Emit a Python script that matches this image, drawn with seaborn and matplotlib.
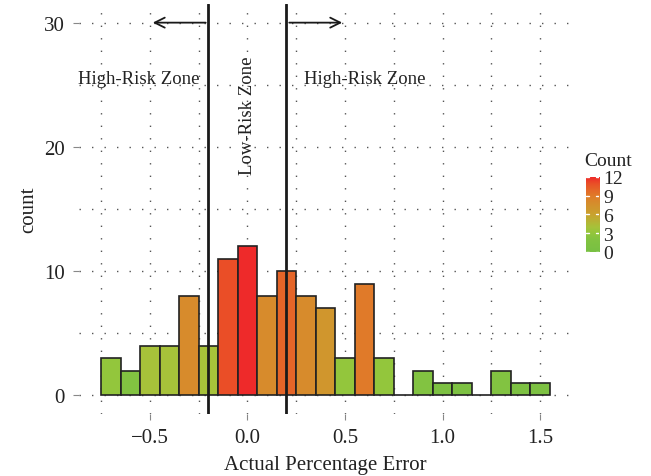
import numpy as np
import pandas as pd
import matplotlib
matplotlib.use("Agg")
import matplotlib.pyplot as plt
from matplotlib.colors import LinearSegmentedColormap, Normalize
import seaborn as sns

# histogram bins (centres) and counts
bin_centres = [-0.7, -0.6, -0.5, -0.4, -0.3, -0.2, -0.1, 0.0, 0.1, 0.2, 0.3, 0.4,
               0.5, 0.6, 0.7, 0.8, 0.9, 1.0, 1.1, 1.2, 1.3, 1.4, 1.5]
counts = [3, 2, 4, 4, 8, 4, 11, 12, 8, 10, 8, 7, 3, 9, 3, 0, 2, 1, 1, 0, 2, 1, 1]
zone_limits = [-0.2, 0.2]
x_ticks = [-0.5, 0.0, 0.5, 1.0, 1.5]
y_ticks = [0, 10, 20, 30]
cbar_ticks = [0, 3, 6, 9, 12]

df = pd.DataFrame({"err": bin_centres, "n": counts})

sns.set_theme(style="white")
plt.rcParams["font.family"] = ["Liberation Serif", "DejaVu Serif"]

# green -> red gradient
cmap = LinearSegmentedColormap.from_list("gr", [
    (0.0, "#78c043"), (2 / 12, "#82c341"), (3 / 12, "#93c63c"), (4 / 12, "#a7c23a"),
    (6 / 12, "#c9a22f"), (8 / 12, "#d78b2c"), (9 / 12, "#e07b29"),
    (10 / 12, "#e56628"), (11 / 12, "#ea4e27"), (1.0, "#ee2a2a")])
norm = Normalize(0, 12)

fig = plt.figure(figsize=(6.51, 4.77), dpi=100)
ax = fig.add_axes([0.121, 0.13, 0.758, 0.8595])

sns.histplot(data=df, x="err", weights="n", binwidth=0.1, binrange=(-0.75, 1.55),
             ax=ax, edgecolor="#222222", linewidth=1.2, alpha=1)
for p in ax.patches:
    p.set_facecolor(cmap(norm(p.get_height())))

ax.set_xlim(-0.865, 1.665)
ax.set_ylim(-1.5, 31.5)
ax.set_xticks(x_ticks)
ax.set_xticklabels(["\u22120.5", "0.0", "0.5", "1.0", "1.5"])
ax.set_yticks(y_ticks)
ax.set_xticks(np.arange(-0.75, 1.51, 0.25), minor=True)
ax.set_yticks(np.arange(0, 31, 5), minor=True)
ax.grid(which="both", color="#555555", linestyle=(0, (1, 8)), linewidth=1.0)
ax.set_axisbelow(True)
for s in ax.spines.values():
    s.set_visible(False)
ax.tick_params(which="major", length=4, width=0.8, color="#888888", pad=6,
               labelsize=15, labelcolor="#222222", bottom=True, left=True)
ax.tick_params(which="minor", length=0)
ax.set_xlabel("Actual Percentage Error", fontsize=15, color="#222222", labelpad=6)
ax.set_ylabel("count", fontsize=15, color="#222222", labelpad=4)

for xv in zone_limits:
    ax.axvline(xv, color="#1a1a1a", linewidth=2)
ax.annotate("", xy=(-0.5, 30), xytext=(-0.2, 30),
            arrowprops=dict(arrowstyle="->", color="#1a1a1a", lw=1.3, mutation_scale=18))
ax.annotate("", xy=(0.5, 30), xytext=(0.2, 30),
            arrowprops=dict(arrowstyle="->", color="#1a1a1a", lw=1.3, mutation_scale=18))
ax.text(-0.56, 25.5, "High-Risk Zone", ha="center", va="center", fontsize=13.5, color="#222222")
ax.text(0.6, 25.5, "High-Risk Zone", ha="center", va="center", fontsize=13.5, color="#222222")
ax.text(0.0, 22.6, "Low-Risk Zone", ha="center", va="center", rotation=90,
        fontsize=13.5, color="#222222")

# continuous colour bar
cax = fig.add_axes([0.900, 0.470, 0.02, 0.157])
cax.imshow(np.linspace(0, 12, 256).reshape(-1, 1), aspect="auto", origin="lower",
           extent=[0, 1, 0, 12], cmap=cmap, norm=norm, interpolation="bilinear")
cax.set_xlim(0, 1)
cax.set_ylim(0, 12)
cax.set_xticks([])
cax.yaxis.tick_right()
cax.set_yticks(cbar_ticks)
for s in cax.spines.values():
    s.set_visible(False)
cax.tick_params(length=0, labelsize=14, pad=3, labelcolor="#222222")
for t in cbar_ticks:
    cax.axhline(t, xmin=0, xmax=0.25, color="white", lw=1)
    cax.axhline(t, xmin=0.75, xmax=1, color="white", lw=1)
fig.text(0.897, 0.644, "Count", fontsize=14, ha="left", va="bottom", color="#222222")

fig.savefig("out.png", dpi=100)
